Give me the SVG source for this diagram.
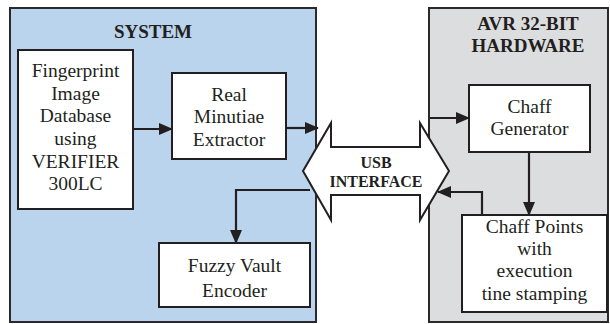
<svg xmlns="http://www.w3.org/2000/svg" width="610" height="324" viewBox="0 0 610 324">
<style>
.panel{stroke:#2b2a2b;stroke-width:2}
.box{fill:#fff;stroke:#231f20;stroke-width:2}
.t{font-family:"Liberation Serif","Times New Roman",serif;font-size:19.5px;fill:#231f20;text-anchor:middle}
.h{font-family:"Liberation Serif","Times New Roman",serif;font-size:19px;font-weight:bold;fill:#231f20;text-anchor:middle}
.u{font-family:"Liberation Serif","Times New Roman",serif;font-size:16px;font-weight:bold;fill:#231f20;text-anchor:middle}
.c{fill:none;stroke:#231f20;stroke-width:2.2}
</style>
<defs>
<marker id="ah" markerUnits="userSpaceOnUse" markerWidth="14" markerHeight="12" viewBox="0 0 14 12" refX="13" refY="6" orient="auto">
<path d="M0,0 L14,6 L0,12 Z" fill="#231f20"/>
</marker>
</defs>
<rect width="610" height="324" fill="#fff"/>
<g id="system">
<rect class="panel" x="10" y="8" width="306" height="314" fill="#b9d4ec"/>
<text class="h" x="153" y="38">SYSTEM</text>
</g>
<g id="avr">
<rect class="panel" x="429" y="8" width="179" height="314" fill="#dcdddf"/>
<text class="h" x="528" y="30">AVR 32-BIT</text>
<text class="h" x="528" y="52">HARDWARE</text>
</g>
<g id="fingerprint">
<rect class="box" x="18" y="50" width="115" height="159"/>
<text class="t" x="75.5" y="77">Fingerprint</text>
<text class="t" x="75.5" y="100">Image</text>
<text class="t" x="75.5" y="122">Database</text>
<text class="t" x="75.5" y="145">using</text>
<text class="t" x="75.5" y="168">VERIFIER</text>
<text class="t" x="75.5" y="190">300LC</text>
</g>
<g id="extractor">
<rect class="box" x="172" y="73" width="114" height="86"/>
<text class="t" x="229" y="101">Real</text>
<text class="t" x="229" y="123">Minutiae</text>
<text class="t" x="229" y="146">Extractor</text>
</g>
<g id="fuzzy">
<rect class="box" x="159" y="243" width="151" height="64"/>
<text class="t" x="234.5" y="272">Fuzzy Vault</text>
<text class="t" x="234.5" y="297">Encoder</text>
</g>
<g id="chaffgen">
<rect class="box" x="469" y="85" width="121" height="67"/>
<text class="t" x="529.5" y="113">Chaff</text>
<text class="t" x="529.5" y="135">Generator</text>
</g>
<g id="chaffpoints">
<rect class="box" x="462" y="215" width="145" height="97"/>
<text class="t" x="534.5" y="233">Chaff Points</text>
<text class="t" x="534.5" y="255">with</text>
<text class="t" x="534.5" y="277">execution</text>
<text class="t" x="534.5" y="300">tine stamping</text>
</g>
<g id="usb">
<path d="M303,171 L331,123 L331,147 L420,147 L420,123 L449,171 L420,220 L420,195 L331,195 L331,220 Z" fill="#fff" stroke="#231f20" stroke-width="2" stroke-linejoin="miter"/>
<text class="u" x="376" y="168">USB</text>
<text class="u" x="376" y="187">INTERFACE</text>
</g>
<g id="connectors">
<path class="c" d="M133,129 L172,129" marker-end="url(#ah)"/>
<path class="c" d="M286,128 L318,128" marker-end="url(#ah)"/>
<path class="c" d="M310,190 L236,190 L236,243" marker-end="url(#ah)"/>
<path class="c" d="M430,118 L469,118" marker-end="url(#ah)"/>
<path class="c" d="M529,152 L529,215" marker-end="url(#ah)"/>
<path class="c" d="M482,215 L482,192 L438,192" marker-end="url(#ah)"/>
</g>
</svg>
